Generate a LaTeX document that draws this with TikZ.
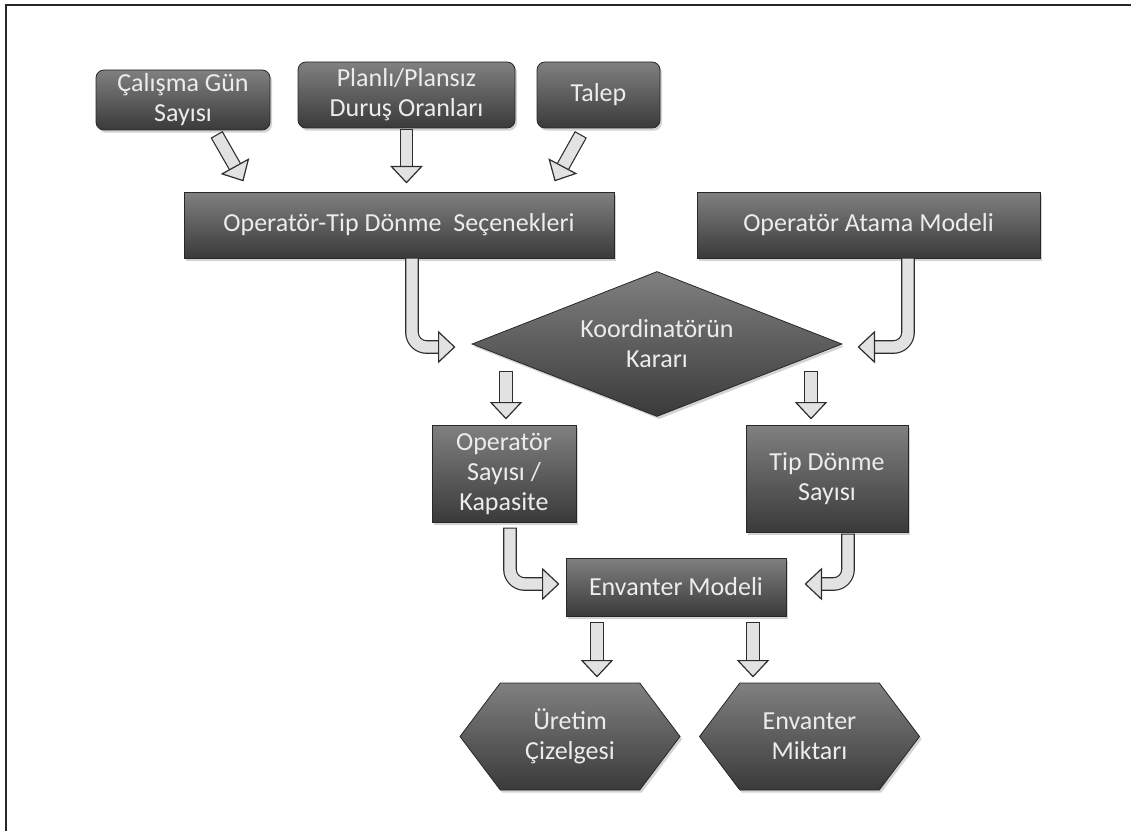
\documentclass[tikz,border=0pt]{standalone}
\usepackage{fontspec}
\setmainfont{Carlito}
\usepackage{tikz}
\usetikzlibrary{calc,shapes.geometric,shapes.symbols,shadows}

\begin{document}
\begin{tikzpicture}[x=0.75pt,y=0.75pt,yscale=-1,xscale=1,
        box/.style={draw={rgb, 255:red, 40; green, 40; blue, 40}, line width=0.6pt,
          top color={rgb, 255:red, 128; green, 128; blue, 128}, bottom color={rgb, 255:red, 58; green, 58; blue, 58},
          text={rgb, 255:red, 236; green, 236; blue, 236}, font=\fontsize{19.5}{22.5}\selectfont,
          align=center, inner sep=0pt,
          drop shadow={opacity=0.35, shadow xshift=1.5pt, shadow yshift=-2pt}},
        roundbox/.style={box, rounded corners=6pt},
        pipe/.style={draw={rgb, 255:red, 45; green, 45; blue, 45}, line width=0.9pt,
          double={rgb, 255:red, 226; green, 226; blue, 226}, double distance=8.5pt,
          line cap=rect, rounded corners=11pt, shorten >=12pt},
        headface/.style={draw={rgb, 255:red, 45; green, 45; blue, 45}, line width=0.9pt,
          fill={rgb, 255:red, 226; green, 226; blue, 226}, line join=miter},
        blkhead/.pic={\draw[headface] (0,0) -- (-16,15) -- (-16,-15) -- cycle;}
    ]
        \useasboundingbox (0,0) rectangle (1131,831);
        \draw [color={rgb, 255:red, 40; green, 40; blue, 40}, line width=1.5pt] (6,831) -- (6,5) -- (1131,5) ;

        % inputs
        \node [roundbox, minimum width=130.5pt, minimum height=45pt] (calisma) at (183,100) {Çalışma Gün\\Sayısı};
        \node [roundbox, minimum width=162.75pt, minimum height=49.5pt] (planli) at (406.5,95) {Planlı/Plansız\\Duruş Oranları};
        \node [roundbox, minimum width=92.25pt, minimum height=49.5pt] (talep) at (598.5,95) {Talep};
        \node [box, minimum width=322.5pt, minimum height=49.5pt] (secenek) at (399,225) {Operatör-Tip Dönme\ \ Seçenekleri};
        \node [box, minimum width=257.25pt, minimum height=49.5pt] (atama) at (868.5,225) {Operatör Atama Modeli};

        % decision
        \node [box, diamond, aspect=2.55, minimum width=277.5pt, minimum height=108.75pt] (karar) at (657,344) {Koordinatörün\\Kararı};
        \node [box, minimum width=108pt, minimum height=72.75pt] (opsay) at (504,473.5) {Operatör\\Sayısı /\\Kapasite};
        \node [box, minimum width=121.5pt, minimum height=80.25pt] (tipsay) at (827,478.5) {Tip Dönme\\Sayısı};
        \node [box, minimum width=165pt, minimum height=43.5pt] (envmod) at (676,587) {Envanter Modeli};

        % outputs
        \node [box, signal, signal to=west and east, signal pointer angle=106, minimum width=165pt, minimum height=80.25pt] (uretim) at (570,736.5) {Üretim\\Çizelgesi};
        \node [box, signal, signal to=west and east, signal pointer angle=106, minimum width=165pt, minimum height=80.25pt] (envmik) at (809.5,736.5) {Envanter\\Miktarı};

        % arrow ends
        \coordinate (a1) at ($(calisma.south)+(37,10)$);
        \coordinate (b1) at ($(secenek.north)+(-156,-11)$);
        \coordinate (a2) at ($(planli.south)+(0,7)$);
        \coordinate (b2) at ($(planli.south |- secenek.north)+(0,-9)$);
        \coordinate (a3) at ($(talep.south)+(-21,12)$);
        \coordinate (b3) at ($(secenek.north)+(156,-11)$);
        \coordinate (a4) at ($(secenek.south)+(13,6)$);
        \coordinate (b4) at ($(karar.west)+(-17,3)$);
        \coordinate (a5) at ($(atama.south)+(39.5,6)$);
        \coordinate (b5) at ($(karar.east)+(16,3)$);
        \coordinate (a6) at ($(opsay.north)+(2,-47)$);
        \coordinate (b6) at ($(opsay.north)+(2,-6)$);
        \coordinate (a7) at ($(tipsay.north)+(-16,-47)$);
        \coordinate (b7) at ($(tipsay.north)+(-16,-6)$);
        \coordinate (a8) at ($(opsay.south)+(6,12)$);
        \coordinate (b8) at ($(envmod.west)+(-7,-3)$);
        \coordinate (a9) at ($(tipsay.south)+(21,8)$);
        \coordinate (b9) at ($(envmod.east)+(19,-3)$);
        \coordinate (a10) at ($(envmod.south)+(-79,12)$);
        \coordinate (b10) at ($(a10 |- uretim.north)+(0,-6)$);
        \coordinate (a11) at ($(envmod.south)+(77,12)$);
        \coordinate (b11) at ($(a11 |- envmik.north)+(0,-6)$);

        % block arrows
        \draw [pipe] (a1) -- (b1) ;  \pic [rotate=-61] at (b1) {blkhead};
        \draw [pipe] (a2) -- (b2) ;  \pic [rotate=-90] at (b2) {blkhead};
        \draw [pipe] (a3) -- (b3) ;  \pic [rotate=-118] at (b3) {blkhead};
        \draw [pipe] (a4) |- (b4) ;  \pic [rotate=0] at (b4) {blkhead};
        \draw [pipe] (a5) |- (b5) ;  \pic [rotate=180] at (b5) {blkhead};
        \draw [pipe] (a6) -- (b6) ;  \pic [rotate=-90] at (b6) {blkhead};
        \draw [pipe] (a7) -- (b7) ;  \pic [rotate=-90] at (b7) {blkhead};
        \draw [pipe] (a8) |- (b8) ;  \pic [rotate=0] at (b8) {blkhead};
        \draw [pipe] (a9) |- (b9) ;  \pic [rotate=180] at (b9) {blkhead};
        \draw [pipe] (a10) -- (b10) ;  \pic [rotate=-90] at (b10) {blkhead};
        \draw [pipe] (a11) -- (b11) ;  \pic [rotate=-90] at (b11) {blkhead};
    \end{tikzpicture}
\end{document}
